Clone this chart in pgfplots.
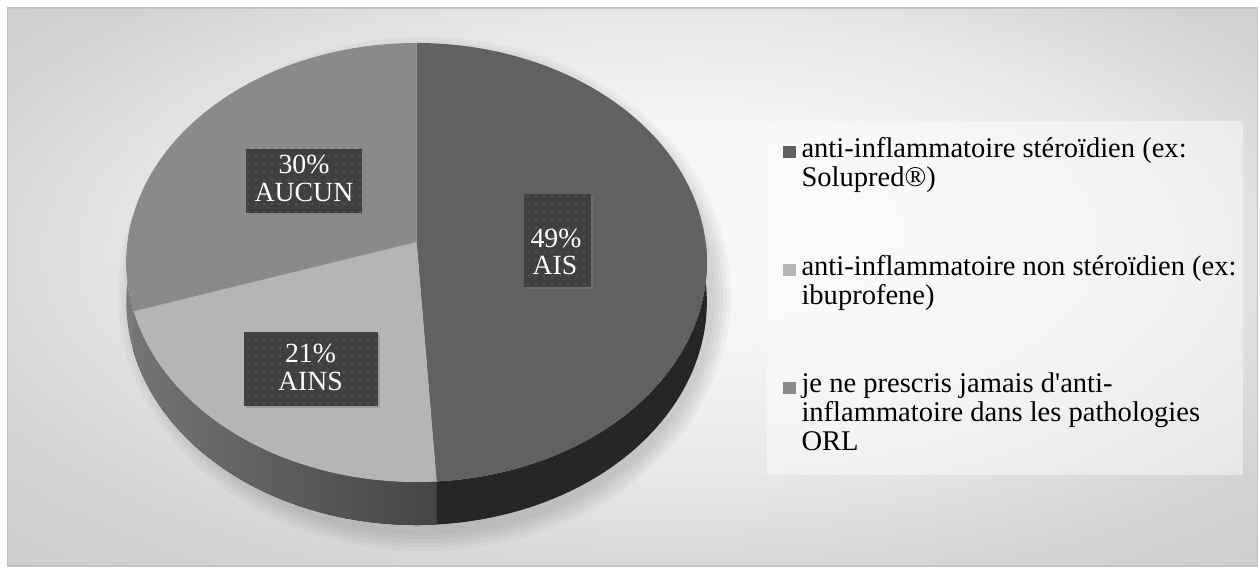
\documentclass[border=0pt]{standalone}
\usepackage{pgfplots}
\usepackage{pgfplotstable}
\pgfplotsset{compat=1.18}
\usepgfplotslibrary{fillbetween}
\usetikzlibrary{patterns.meta,shadows}
\usepackage{fontspec}
\setmainfont{Liberation Serif}[Ligatures=NoCommon]

\definecolor{cAIS}{HTML}{616161}
\definecolor{cAISside}{HTML}{262626}
\definecolor{cAINS}{HTML}{B5B5B5}
\definecolor{cAINSsideL}{HTML}{747474}
\definecolor{cAINSsideR}{HTML}{454545}
\definecolor{cAUC}{HTML}{8A8A8A}
\definecolor{cAUCside}{HTML}{7A7A7A}
\definecolor{lblbox}{HTML}{404040}
\definecolor{lbldot}{HTML}{5A5A5A}
\definecolor{frame}{HTML}{C4C4C4}

\pgfdeclareradialshading{bgshade}{\pgfpoint{3bp}{6bp}}{%
  color(0bp)=(black!2.5); color(10bp)=(black!4); color(20bp)=(black!9);
  color(30bp)=(black!17); color(40bp)=(black!21); color(50bp)=(black!23)}

\newcommand\legfont{\fontsize{21.4}{21.75}\selectfont}
\newcommand\lblfont{\fontsize{20.8}{21}\selectfont}

\pgfplotstableread{
label pct
AIS 49
AINS 21
AUCUN 30
}\piedata

\begin{document}
\pgfplotstablegetelem{0}{pct}\of\piedata \edef\pA{\pgfplotsretval}%
\pgfplotstablegetelem{1}{pct}\of\piedata \edef\pB{\pgfplotsretval}%
\pgfplotstablegetelem{2}{pct}\of\piedata \edef\pC{\pgfplotsretval}%
\pgfmathsetmacro\tA{3.6*\pA}%
\pgfmathsetmacro\tB{\tA+3.6*\pB}%
\pgfmathsetmacro\tC{\tB+3.6*\pC}%
% perspective view of the pie: centre, radii, perspective factor, depth
\def\cx{416.6}\def\cy{330}\def\R{289}\def\S{217.6}\def\k{0.0934}\def\D{39}%
\begin{tikzpicture}
\begin{axis}[
  set layers,
  width=945pt, height=429pt, scale only axis,
  xmin=0, xmax=1260, ymin=0, ymax=572,
  enlargelimits=false, hide axis, clip=false, no markers,
  legend style={at={(axis cs:783,434.6)}, anchor=north west,
    draw=none, fill=none, inner sep=0pt, outer sep=0pt,
    column sep=4.5pt, row sep=44.7pt,
    cells={anchor=base west},
    nodes={inner sep=0pt, outer sep=0pt, text depth=, text height=, font=\legfont}},
]
% background
\begin{pgfonlayer}{axis background}
\path (axis cs:0,0) rectangle (axis cs:1260,572);
\shade[shading=bgshade] (axis cs:7.5,6) rectangle (axis cs:1257.5,564);
\draw[frame, line width=1.2pt] (axis cs:7.5,6) rectangle (axis cs:1257.5,564);
% soft shadow around pie (offset down-right)
\fill[black, opacity=0.03] (axis cs:424.5,278) ellipse [x radius=306.5, y radius=257];
\fill[black, opacity=0.03] (axis cs:424.5,278) ellipse [x radius=302.5, y radius=253];
\fill[black, opacity=0.03] (axis cs:424.5,278) ellipse [x radius=298.5, y radius=249];
\fill[black, opacity=0.03] (axis cs:424.5,278) ellipse [x radius=294.5, y radius=245];
\fill[black, opacity=0.03] (axis cs:424.5,278) ellipse [x radius=290.5, y radius=241];
% legend box
\fill[white, opacity=0.45] (axis cs:767,97) rectangle (axis cs:1243,451);
\end{pgfonlayer}

% ---- sides ----
\addplot[name path=sAt, draw=none, forget plot, domain=90:\tA, samples=60] ({\cx+\R*sin(x)/(1+\k*cos(x))},{\cy+\S*cos(x)/(1+\k*cos(x))});
\addplot[name path=sAb, draw=none, forget plot, domain=90:\tA, samples=60] ({\cx+\R*sin(x)/(1+\k*cos(x))},{\cy+(\S*cos(x)-\D)/(1+\k*cos(x))});
\addplot[fill=cAISside, draw=none, forget plot] fill between[of=sAt and sAb];

\addplot[name path=sBt, draw=none, forget plot, domain=\tA:\tB, samples=60] ({\cx+\R*sin(x)/(1+\k*cos(x))},{\cy+\S*cos(x)/(1+\k*cos(x))});
\addplot[name path=sBb, draw=none, forget plot, domain=\tA:\tB, samples=60] ({\cx+\R*sin(x)/(1+\k*cos(x))},{\cy+(\S*cos(x)-\D)/(1+\k*cos(x))});
\addplot[left color=cAINSsideL, right color=cAINSsideR, draw=none, forget plot] fill between[of=sBt and sBb];

\addplot[name path=sCt, draw=none, forget plot, domain=\tB:276, samples=20] ({\cx+\R*sin(x)/(1+\k*cos(x))},{\cy+\S*cos(x)/(1+\k*cos(x))});
\addplot[name path=sCb, draw=none, forget plot, domain=\tB:276, samples=20] ({\cx+\R*sin(x)/(1+\k*cos(x))},{\cy+(\S*cos(x)-\D)/(1+\k*cos(x))});
\addplot[fill=cAUCside, draw=none, forget plot] fill between[of=sCt and sCb];

% ---- top faces ----
\addplot[fill=cAIS, draw=none, forget plot, domain=0:\tA, samples=120] ({\cx+\R*sin(x)/(1+\k*cos(x))},{\cy+\S*cos(x)/(1+\k*cos(x))}) -- (axis cs:\cx,\cy) -- cycle;
\addplot[fill=cAINS, draw=none, forget plot, domain=\tA:\tB, samples=60] ({\cx+\R*sin(x)/(1+\k*cos(x))},{\cy+\S*cos(x)/(1+\k*cos(x))}) -- (axis cs:\cx,\cy) -- cycle;
\addplot[fill=cAUC, draw=none, forget plot, domain=\tB:\tC, samples=80] ({\cx+\R*sin(x)/(1+\k*cos(x))},{\cy+\S*cos(x)/(1+\k*cos(x))}) -- (axis cs:\cx,\cy) -- cycle;

% ---- data labels ----
\tikzset{lblboxstyle/.style={fill=lblbox, drop shadow={shadow xshift=1.6pt, shadow yshift=-1.6pt, opacity=0.45},
  postaction={pattern={Dots[radius=0.75pt,distance=6pt]}, pattern color=lbldot}}}
\path[lblboxstyle] (axis cs:246,359) rectangle (axis cs:362,423);
\path[lblboxstyle] (axis cs:524,285) rectangle (axis cs:591,378);
\path[lblboxstyle] (axis cs:244,166) rectangle (axis cs:378,240);
\tikzset{lbltext/.style={anchor=base, text=white, font=\lblfont, inner sep=0pt}}
\node[lbltext] at (axis cs:304,398.7) {30\%};
\node[lbltext] at (axis cs:304,370.3) {AUCUN};
\node[lbltext] at (axis cs:556,324) {49\%};
\node[lbltext] at (axis cs:555,297) {AIS};
\node[lbltext] at (axis cs:310.5,209.3) {21\%};
\node[lbltext] at (axis cs:310.5,182) {AINS};

% ---- legend ----
\addlegendimage{legend image code/.code={\fill[cAIS] (0pt,0pt) rectangle (9pt,8.25pt);}}
\addlegendentry{\begin{tabular}[t]{@{}l@{}}anti-inflammatoire stéroïdien (ex:\\Solupred®)\end{tabular}}
\addlegendimage{legend image code/.code={\fill[cAINS] (0pt,0pt) rectangle (9pt,8.25pt);}}
\addlegendentry{\begin{tabular}[t]{@{}l@{}}anti-inflammatoire non stéroïdien (ex:\\ibuprofene)\end{tabular}}
\addlegendimage{legend image code/.code={\fill[cAUC] (0pt,0pt) rectangle (9pt,8.25pt);}}
\addlegendentry{\begin{tabular}[t]{@{}l@{}}je ne prescris jamais d\textquotesingle anti-\\inflammatoire dans les pathologies\\ORL\end{tabular}}
\end{axis}
\end{tikzpicture}
\end{document}
